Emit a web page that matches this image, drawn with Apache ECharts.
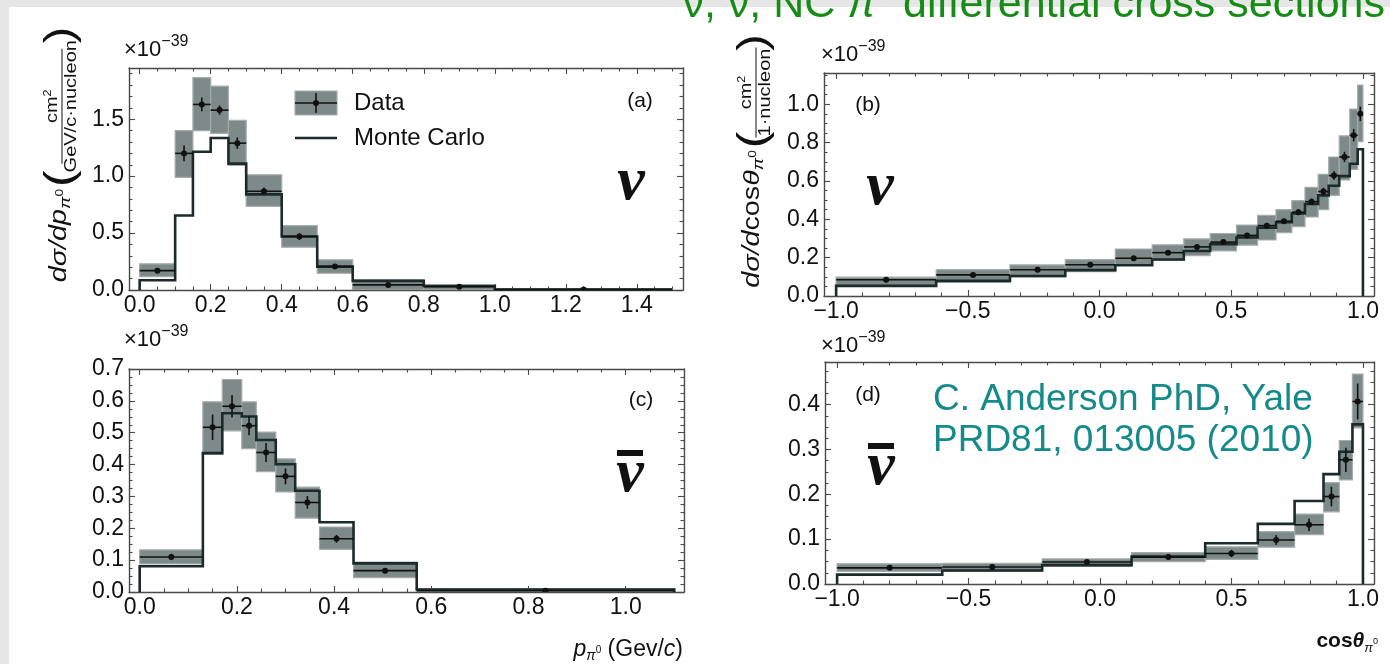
<!DOCTYPE html>
<html>
<head>
<meta charset="utf-8">
<script src="https://cdn.jsdelivr.net/npm/echarts@6/dist/echarts.min.js"></script>
<style>
  html, body { margin: 0; padding: 0; background: #e6e6e6; }
  #sheet { position: absolute; left: 9px; top: 7px; right: 0; bottom: 0; background: #ffffff; }
  #chart { position: absolute; left: 0; top: 0; width: 1390px; height: 664px; }
</style>
</head>
<body>
<div id="sheet"></div>
<div id="chart"></div>
<script>
// All cross sections in units of 1e-39 cm^2.

// (a) neutrino, dσ/dp_π0 : momentum bins (GeV/c)
const aEdges = [0, 0.1, 0.15, 0.2, 0.25, 0.3, 0.4, 0.5, 0.6, 0.8, 1.0, 1.5];
const aData  = [0.17, 1.20, 1.63, 1.58, 1.29, 0.868, 0.47, 0.206, 0.045, 0.028, 0.005];
const aStat  = [0.02, 0.07, 0.06, 0.04, 0.05, 0.03, 0.03, 0.02, 0.01, 0.005, 0.002];
const aSysLo = [0.118, 0.99, 1.40, 1.376, 1.094, 0.735, 0.376, 0.147, 0.0, 0.0, 0.0];
const aSysHi = [0.23, 1.40, 1.865, 1.79, 1.49, 1.012, 0.565, 0.265, 0.09, 0.045, 0.01];
const aMC    = [0.085, 0.655, 1.215, 1.335, 1.11, 0.84, 0.47, 0.205, 0.08, 0.035, 0.005];

// (b) neutrino, dσ/dcosθ_π0
const bEdges = [-1, -0.62, -0.34, -0.13, 0.06, 0.2, 0.32, 0.42, 0.52, 0.6, 0.67, 0.73, 0.78, 0.83, 0.87, 0.91, 0.95, 0.98, 1.0];
const bData  = [0.085, 0.11, 0.137, 0.163, 0.197, 0.226, 0.256, 0.281, 0.316, 0.367, 0.39, 0.437, 0.492, 0.545, 0.628, 0.725, 0.838, 0.95];
const bStat  = [0.006, 0.007, 0.007, 0.008, 0.009, 0.009, 0.01, 0.01, 0.011, 0.013, 0.013, 0.015, 0.017, 0.02, 0.022, 0.027, 0.032, 0.038];
const bSysLo = [0.05, 0.072, 0.099, 0.127, 0.16, 0.186, 0.21, 0.235, 0.265, 0.292, 0.33, 0.362, 0.412, 0.45, 0.525, 0.605, 0.66, 0.805];
const bSysHi = [0.098, 0.138, 0.162, 0.19, 0.245, 0.267, 0.298, 0.326, 0.37, 0.42, 0.45, 0.497, 0.566, 0.635, 0.725, 0.835, 0.975, 1.10];
const bMC    = [0.053, 0.079, 0.104, 0.135, 0.16, 0.19, 0.235, 0.27, 0.305, 0.356, 0.385, 0.43, 0.48, 0.525, 0.575, 0.625, 0.69, 0.765];

// (c) antineutrino, dσ/dp_π0
const cEdges = [0, 0.13, 0.17, 0.21, 0.24, 0.28, 0.32, 0.37, 0.44, 0.57, 1.1];
const cData  = [0.11, 0.517, 0.583, 0.522, 0.438, 0.363, 0.281, 0.167, 0.067, 0.004];
const cStat  = [0.01, 0.04, 0.035, 0.03, 0.03, 0.025, 0.02, 0.012, 0.006, 0.002];
const cSysLo = [0.088, 0.432, 0.506, 0.45, 0.378, 0.314, 0.232, 0.134, 0.045, 0.0];
const cSysHi = [0.132, 0.597, 0.667, 0.597, 0.502, 0.418, 0.329, 0.204, 0.094, 0.01];
const cMC    = [0.081, 0.436, 0.561, 0.551, 0.477, 0.401, 0.318, 0.219, 0.09, 0.008];

// (d) antineutrino, dσ/dcosθ_π0
const dEdges = [-1, -0.6, -0.22, 0.12, 0.4, 0.6, 0.74, 0.85, 0.91, 0.96, 1.0];
const dData  = [0.036, 0.038, 0.049, 0.06, 0.068, 0.098, 0.132, 0.195, 0.277, 0.407];
const dStat  = [0.004, 0.004, 0.004, 0.006, 0.008, 0.011, 0.014, 0.022, 0.027, 0.04];
const dSysLo = [0.028, 0.028, 0.039, 0.05, 0.055, 0.082, 0.11, 0.161, 0.232, 0.348];
const dSysHi = [0.045, 0.046, 0.056, 0.07, 0.083, 0.117, 0.156, 0.226, 0.32, 0.468];
const dMC    = [0.021, 0.03, 0.042, 0.061, 0.091, 0.134, 0.185, 0.245, 0.295, 0.356];

// Tick labels
const xTicksA = [0, 0.2, 0.4, 0.6, 0.8, 1.0, 1.2, 1.4];
const yTicksA = [0, 0.5, 1.0, 1.5];
const xTicksB = [-1, -0.5, 0, 0.5, 1];
const yTicksB = [0, 0.2, 0.4, 0.6, 0.8, 1.0];
const xTicksC = [0, 0.2, 0.4, 0.6, 0.8, 1.0];
const yTicksC = [0, 0.1, 0.2, 0.3, 0.4, 0.5, 0.6, 0.7];
const xTicksD = [-1, -0.5, 0, 0.5, 1];
const yTicksD = [0, 0.1, 0.2, 0.3, 0.4];

const SANS = "'Liberation Sans', Arial, Helvetica, sans-serif";
const SERIF = "'Liberation Serif', 'Times New Roman', serif";
const BOX_FILL = '#7e8a8a', BOX_EDGE = '#a4acac', MC_COL = '#1b2a2a';
const FRAME = '#4a4a4a', INK = '#111111';

const panels = [
  { edges: aEdges, val: aData, stat: aStat, lo: aSysLo, hi: aSysHi, mc: aMC,
    rect: [129, 68, 554, 222], xr: [-0.03, 1.53], yr: [0, 1.95],
    xMajor: xTicksA, xStep: 0.05, yMajor: yTicksA, yStep: 0.1 },
  { edges: bEdges, val: bData, stat: bStat, lo: bSysLo, hi: bSysHi, mc: bMC,
    rect: [824, 73, 550, 223], xr: [-1.046, 1.042], yr: [0, 1.163],
    xMajor: xTicksB, xStep: 0.1, yMajor: yTicksB, yStep: 0.05 },
  { edges: cEdges, val: cData, stat: cStat, lo: cSysLo, hi: cSysHi, mc: cMC,
    rect: [129, 369, 555, 223], xr: [-0.022, 1.12], yr: [0, 0.7],
    xMajor: xTicksC, xStep: 0.05, yMajor: yTicksC, yStep: 0.025 },
  { edges: dEdges, val: dData, stat: dStat, lo: dSysLo, hi: dSysHi, mc: dMC,
    rect: [825, 362, 549, 222], xr: [-1.046, 1.042], yr: [0, 0.495],
    xMajor: xTicksD, xStep: 0.1, yMajor: yTicksD, yStep: 0.025 }
];

function minorValues(range, step, majors) {
  const out = [];
  const k0 = Math.ceil(range[0] / step - 1e-9), k1 = Math.floor(range[1] / step + 1e-9);
  for (let k = k0; k <= k1; k++) {
    const v = +(k * step).toFixed(6);
    if (!majors.some(m => Math.abs(m - v) < 1e-9)) out.push(v);
  }
  return out;
}
const fmt = v => (v < 0 ? '\u2212' : '') + Math.abs(v).toFixed(1);

function axis(kind, gridIndex, range, position, ticks, len, showLine, showLabels) {
  return {
    type: 'value', gridIndex, min: range[0], max: range[1], position,
    axisLine: { show: showLine, onZero: false, lineStyle: { color: FRAME, width: 1.4 } },
    axisTick: { show: true, inside: true, length: len, customValues: ticks,
                lineStyle: { color: FRAME, width: 1.1 } },
    axisLabel: { show: showLabels, customValues: ticks, formatter: fmt,
                 margin: kind === 'x' ? 4 : 5, color: INK, fontFamily: SANS, fontSize: 23 },
    splitLine: { show: false }, minorTick: { show: false }, minorSplitLine: { show: false }
  };
}

const grids = [], xAxes = [], yAxes = [], series = [];
// grids 0..3 carry the frame, major ticks and labels; grids 4..7 overlay them with minor ticks
panels.forEach((p, i) => {
  grids[i] = { left: p.rect[0], top: p.rect[1], width: p.rect[2], height: p.rect[3], containLabel: false, outerBoundsMode: 'none' };
  grids[i + 4] = Object.assign({}, grids[i]);
  const xMin = minorValues(p.xr, p.xStep, p.xMajor);
  const yMin = minorValues(p.yr, p.yStep, p.yMajor);
  xAxes[2 * i]     = axis('x', i, p.xr, 'bottom', p.xMajor, 6, true, true);
  xAxes[2 * i + 1] = axis('x', i, p.xr, 'top', p.xMajor, 6, true, false);
  yAxes[2 * i]     = axis('y', i, p.yr, 'left', p.yMajor, 6, true, true);
  yAxes[2 * i + 1] = axis('y', i, p.yr, 'right', p.yMajor, 6, true, false);
  xAxes[8 + 2 * i]     = axis('x', i + 4, p.xr, 'bottom', xMin, 3.5, false, false);
  xAxes[8 + 2 * i + 1] = axis('x', i + 4, p.xr, 'top', xMin, 3.5, false, false);
  yAxes[8 + 2 * i]     = axis('y', i + 4, p.yr, 'left', yMin, 3.5, false, false);
  yAxes[8 + 2 * i + 1] = axis('y', i + 4, p.yr, 'right', yMin, 3.5, false, false);

  const bins = p.val.map((v, k) => [p.edges[k], p.edges[k + 1], v, p.stat[k], p.lo[k], p.hi[k]]);

  // systematic error bands
  series.push({
    type: 'custom', xAxisIndex: 2 * i, yAxisIndex: 2 * i, z: 2, clip: true, silent: true, animation: false,
    data: bins,
    renderItem: (params, api) => {
      const a = api.coord([api.value(0), api.value(5)]);
      const b = api.coord([api.value(1), api.value(4)]);
      return { type: 'rect', shape: { x: a[0], y: a[1], width: b[0] - a[0], height: b[1] - a[1] },
               style: { fill: BOX_FILL, stroke: BOX_EDGE, lineWidth: 1.2 } };
    }
  });
  // Monte Carlo histogram
  const pts = [[p.edges[0], 0]];
  p.mc.forEach((v, k) => { pts.push([p.edges[k], v], [p.edges[k + 1], v]); });
  pts.push([p.edges[p.edges.length - 1], 0]);
  series.push({
    type: 'line', xAxisIndex: 2 * i, yAxisIndex: 2 * i, z: 3, clip: true, silent: true, animation: false,
    data: pts, symbol: 'none', showSymbol: false,
    lineStyle: { color: MC_COL, width: 2.6, join: 'miter' }
  });
  // data points with bin width and statistical error
  series.push({
    type: 'custom', xAxisIndex: 2 * i, yAxisIndex: 2 * i, z: 4, clip: true, silent: true, animation: false,
    data: bins,
    renderItem: (params, api) => {
      const lo = api.value(0), hi = api.value(1), v = api.value(2), s = api.value(3), c = (lo + hi) / 2;
      const L = api.coord([lo, v]), R = api.coord([hi, v]);
      const T = api.coord([c, v + s]), B = api.coord([c, v - s]), M = api.coord([c, v]);
      return { type: 'group', children: [
        { type: 'line', shape: { x1: L[0], y1: L[1], x2: R[0], y2: R[1] }, style: { stroke: INK, lineWidth: 1.6 } },
        { type: 'line', shape: { x1: T[0], y1: T[1], x2: B[0], y2: B[1] }, style: { stroke: INK, lineWidth: 1.6 } },
        { type: 'circle', shape: { cx: M[0], cy: M[1], r: 3 }, style: { fill: INK } }
      ] };
    }
  });
});

// ---- text helpers ----
const mctx = document.createElement('canvas').getContext('2d');
function fontOf(p) { return `${p.style || 'normal'} ${p.weight || 'normal'} ${p.size}px ${p.family || SANS}`; }
function widthOf(pieces) {
  let w = 0;
  pieces.forEach(p => { mctx.font = fontOf(p); w += mctx.measureText(p.t).width + (p.gap || 0); });
  return w;
}
// lays a run of text pieces left to right, vertically centred on y
function row(x, y, pieces, align, color) {
  let cx = align === 'right' ? x - widthOf(pieces) : align === 'center' ? x - widthOf(pieces) / 2 : x;
  const out = [];
  pieces.forEach(p => {
    const font = fontOf(p);
    out.push({ type: 'text', x: cx, y: y + (p.dy || 0),
      style: { text: p.t, font, fill: p.color || color || INK, align: 'left', verticalAlign: 'middle',
               textAlign: 'left', textVerticalAlign: 'middle' } });
    mctx.font = font; cx += mctx.measureText(p.t).width + (p.gap || 0);
  });
  return out;
}
function txt(x, y, t, size, opts) {
  opts = opts || {};
  return { type: 'text', x, y, style: { text: t, font: fontOf(Object.assign({ size }, opts)),
    fill: opts.color || INK, align: opts.align || 'center', verticalAlign: 'middle',
    textAlign: opts.align || 'center', textVerticalAlign: 'middle' } };
}
function expLabel(x, y) {
  return row(x, y, [{ t: '\u00d710', size: 22 }, { t: '\u221239', size: 16, dy: -8 }], 'left');
}
function nuSymbol(x, y, bar) {
  const els = [txt(x, y, '\u03bd', 62, { style: 'italic', weight: 'bold', family: SERIF })];
  if (bar) els.push({ type: 'rect', shape: { x: x - 13, y: y - 25, width: 26, height: 6 }, style: { fill: INK } });
  return els;
}
// rotated y-axis title: dσ/d(var)_π0 ( cm² / denominator ), stretched along its reading direction
function yTitle(x0, y0, varPieces, denom, o) {
  const head = [{ t: 'd\u03c3/d', size: 23, style: 'italic' }].concat(varPieces);
  const sub = [{ t: '\u03c0', size: 15, style: 'italic', dy: 6 }, { t: '0', size: 11, dy: 0 }];
  const mainW = widthOf(head.concat(sub));
  const main = row(o.open - 8 - mainW, -2, head.concat(sub), 'left');
  const kids = main.concat([
    txt(o.open, 0, '(', 40, { weight: 'lighter' }),
    txt(o.close, 0, ')', 40, { weight: 'lighter' }),
    { type: 'line', shape: { x1: o.frac - o.half, y1: o.bar, x2: o.frac + o.half, y2: o.bar }, style: { stroke: INK, lineWidth: 1 } }
  ]).concat(row(o.frac, o.bar - 9, [{ t: 'cm', size: 16 }, { t: '2', size: 10, dy: -5 }], 'center'))
    .concat(row(o.frac, o.bar + 10, [{ t: denom, size: 16 }], 'center'));
  return { type: 'group', x: x0, y: y0, rotation: Math.PI / 2, scaleX: 1.25, scaleY: 1, children: kids };
}

const graphics = [];
// heading
graphics.push(...row(1385, 5, [
  { t: '\u03bd, \u03bd\u0304, NC ', size: 43 }, { t: '\u03c0', size: 43, style: 'italic' },
  { t: '0', size: 27, dy: -12 }, { t: ' differential cross sections', size: 43 }], 'right', '#168c16'));
// exponent labels
graphics.push(...expLabel(124, 50), ...expLabel(821, 55), ...expLabel(124, 340), ...expLabel(821, 346));
// panel tags
graphics.push(txt(640, 101, '(a)', 21), txt(868, 105, '(b)', 21), txt(641, 400, '(c)', 21), txt(868, 395, '(d)', 21));
// neutrino symbols
graphics.push(...nuSymbol(631, 183, false), ...nuSymbol(880, 188, false), ...nuSymbol(630, 475, true), ...nuSymbol(881, 468, true));
// legend in (a)
graphics.push(
  { type: 'rect', shape: { x: 295, y: 91, width: 42, height: 24 }, style: { fill: BOX_FILL, stroke: BOX_EDGE, lineWidth: 1.2 } },
  { type: 'line', shape: { x1: 295, y1: 103, x2: 337, y2: 103 }, style: { stroke: INK, lineWidth: 1.6 } },
  { type: 'line', shape: { x1: 316, y1: 93, x2: 316, y2: 113 }, style: { stroke: INK, lineWidth: 1.6 } },
  { type: 'circle', shape: { cx: 316, cy: 103, r: 3 }, style: { fill: INK } },
  txt(354, 103, 'Data', 24, { align: 'left' }),
  { type: 'line', shape: { x1: 295, y1: 138, x2: 337, y2: 138 }, style: { stroke: MC_COL, lineWidth: 2.6 } },
  txt(354, 138, 'Monte Carlo', 24, { align: 'left' })
);
// axis titles
graphics.push(yTitle(62, 170, [{ t: 'p', size: 23, style: 'italic' }], 'GeV/c\u00b7nucleon',
  { open: -7, close: 108, frac: 51, half: 46, bar: 0 }));
graphics.push(yTitle(755, 170, [{ t: 'cos', size: 23 }, { t: '\u03b8', size: 23, style: 'italic' }], '1\u00b7nucleon',
  { open: 24, close: 102, frac: 62, half: 36, bar: 1 }));
graphics.push(...row(683, 650, [{ t: 'p', size: 23, style: 'italic' }, { t: '\u03c0', size: 14, style: 'italic', dy: 6 },
  { t: '0', size: 10, dy: 0 }, { t: ' (Gev/', size: 23 }, { t: 'c', size: 23, style: 'italic' }, { t: ')', size: 23 }], 'right'));
graphics.push(...row(1378, 641, [{ t: 'cos', size: 21, weight: 'bold' }, { t: '\u03b8', size: 21, style: 'italic', weight: 'bold' },
  { t: '\u03c0', size: 13, style: 'italic', dy: 7 }, { t: '0', size: 9, dy: 1 }], 'right'));
// reference note
graphics.push(txt(933, 400, 'C. Anderson PhD, Yale', 37, { align: 'left', color: '#148a8a' }));
graphics.push(txt(933, 441, 'PRD81, 013005 (2010)', 37, { align: 'left', color: '#148a8a' }));

const chart = echarts.init(document.getElementById('chart'), null, { renderer: 'canvas' });
chart.setOption({
  backgroundColor: 'transparent',
  animation: false,
  grid: grids, xAxis: xAxes, yAxis: yAxes, series,
  graphic: { elements: graphics }
});
</script>
</body>
</html>
